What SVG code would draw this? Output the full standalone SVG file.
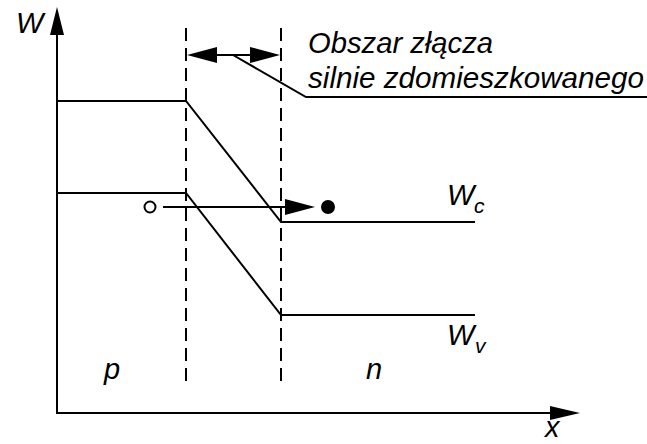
<svg xmlns="http://www.w3.org/2000/svg" width="647" height="444" viewBox="0 0 647 444">
<style>
.ln{stroke:#000;stroke-width:2;fill:none}
.dash{stroke:#000;stroke-width:2;fill:none;stroke-dasharray:13 7}
.t{font-family:"Liberation Sans",Arial,sans-serif;font-style:italic;font-size:29px;fill:#000}
.s{font-family:"Liberation Sans",Arial,sans-serif;font-style:italic;font-size:21px;fill:#000}
.ah{fill:#000;stroke:none}
</style>
<rect width="647" height="444" fill="#fff"/>
<g id="axes">
<line class="ln" x1="57" y1="413" x2="57" y2="33"/>
<polygon class="ah" points="57,7 50,35 64,35"/>
<line class="ln" x1="56" y1="413" x2="552" y2="413"/>
<polygon class="ah" points="580,413 550,406 550,420"/>
<text class="t" x="16" y="33">W</text>
<text class="t" x="545" y="437">x</text>
</g>
<g id="boundaries">
<line class="dash" x1="186" y1="28" x2="186" y2="386"/>
<line class="dash" x1="281" y1="28" x2="281" y2="386"/>
</g>
<g id="band-c">
<polyline class="ln" points="57,101 186,101 281,222 475,222"/>
<text class="t" x="447" y="205">W</text>
<text class="s" x="474" y="213">c</text>
</g>
<g id="band-v">
<polyline class="ln" points="57,193 186,193 281,315 475,315"/>
<text class="t" x="447" y="345">W</text>
<text class="s" x="475" y="353">v</text>
</g>
<g id="electron">
<circle cx="150" cy="207" r="5.5" fill="#fff" stroke="#000" stroke-width="2"/>
<line class="ln" x1="163" y1="207" x2="288" y2="207"/>
<polygon class="ah" points="315,207 285,199 285,215"/>
<circle cx="328" cy="207" r="7" fill="#000"/>
</g>
<g id="junction-label">
<line class="ln" x1="210" y1="55" x2="256" y2="55"/>
<polygon class="ah" points="187,55 217,47 217,63"/>
<polygon class="ah" points="280,55 250,47 250,63"/>
<polyline class="ln" points="233,55 306,97 647,97"/>
<text class="t" x="308" y="53" textLength="185" lengthAdjust="spacingAndGlyphs">Obszar złącza</text>
<text class="t" x="308" y="88" textLength="336" lengthAdjust="spacingAndGlyphs">silnie zdomieszkowanego</text>
</g>
<g id="regions">
<text class="t" x="104" y="379">p</text>
<text class="t" x="366" y="379">n</text>
</g>
</svg>
